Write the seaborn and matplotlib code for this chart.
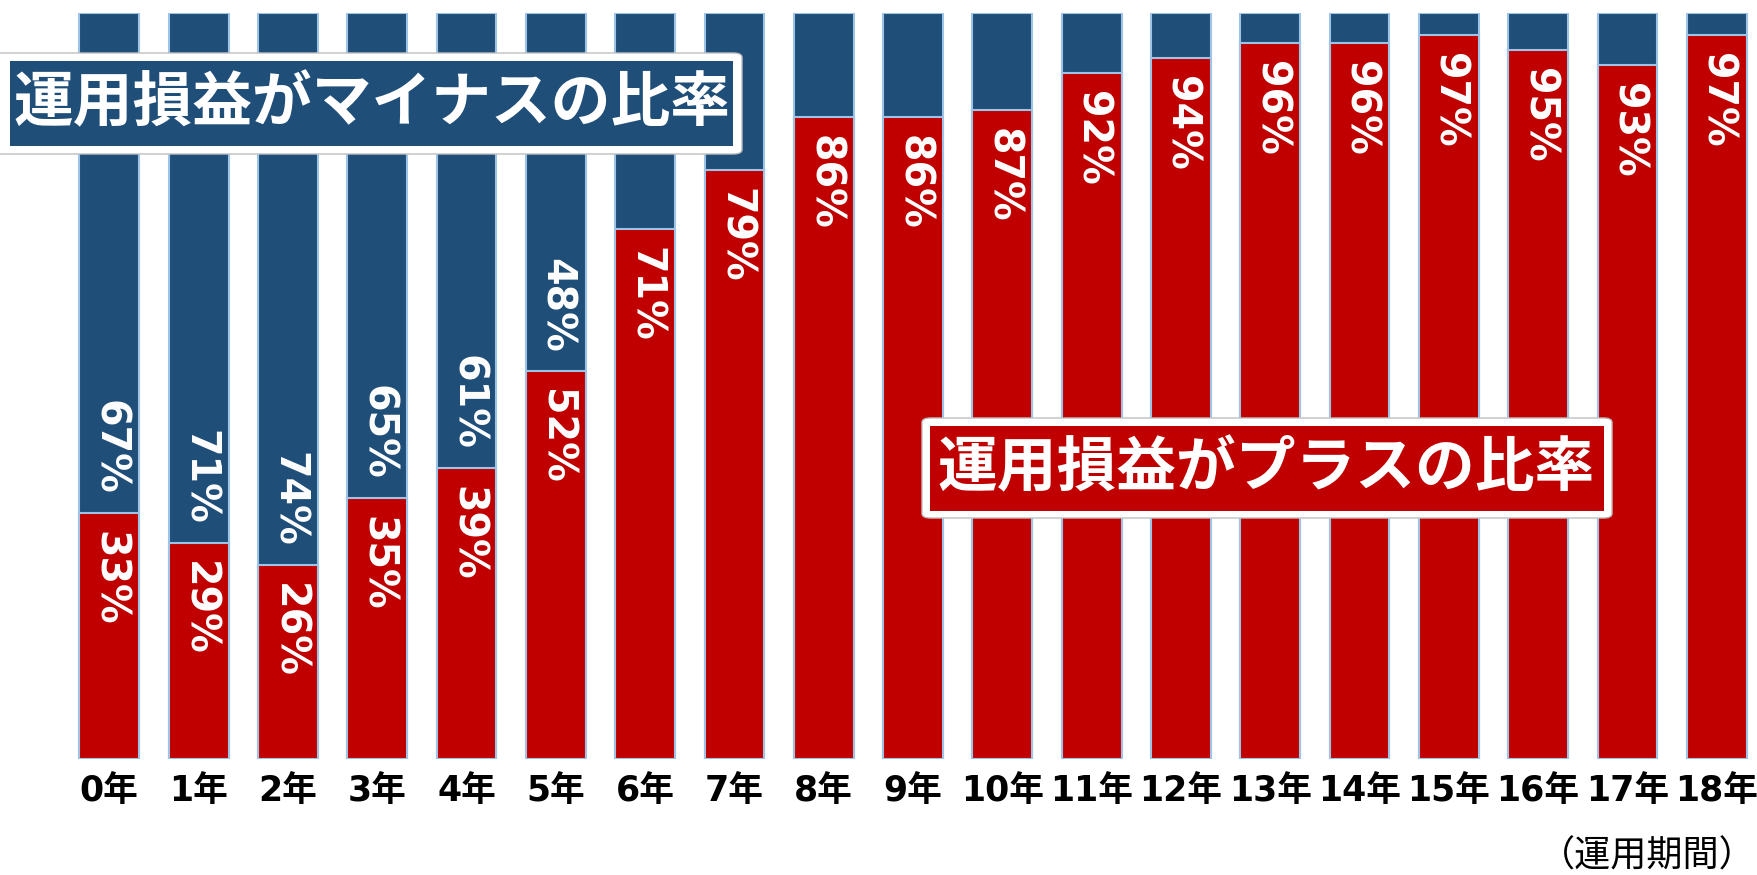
import pandas as pd
import seaborn as sns
import matplotlib.pyplot as plt
from matplotlib.patches import FancyBboxPatch

# data
years = ["0年", "1年", "2年", "3年", "4年", "5年", "6年", "7年", "8年", "9年",
         "10年", "11年", "12年", "13年", "14年", "15年", "16年", "17年", "18年"]
plus = [33, 29, 26, 35, 39, 52, 71, 79, 86, 86, 87, 92, 94, 96, 96, 97, 95, 93, 97]
minus = [67, 71, 74, 65, 61, 48, 29, 21, 14, 14, 13, 8, 6, 4, 4, 3, 5, 7, 3]
minus_shown = 6  # only the first bars carry a label on the blue part

blue = "#1F4E79"
red = "#C00000"
edge = "#9DC3E6"

sns.set_theme(style="white")
plt.rcParams['font.family'] = ['DejaVu Sans', 'Noto Sans CJK JP']

df = pd.DataFrame({"year": years, "plus": plus, "minus": minus})
df["total"] = df["plus"] + df["minus"]

W, H = 1758, 875
fig = plt.figure(figsize=(W / 100, H / 100), dpi=100)
ax = fig.add_axes([0, (H - 759) / H, 1, (759 - 13) / H])

# blue = whole bar, red drawn over the bottom part
sns.barplot(data=df, x="year", y="total", color=blue, saturation=1, width=0.67,
            edgecolor=edge, linewidth=1.5, errorbar=None, ax=ax)
sns.barplot(data=df, x="year", y="plus", color=red, saturation=1, width=0.67,
            edgecolor=edge, linewidth=1.5, errorbar=None, ax=ax)

ax.set_xlim(-1.224, 18.462)
ax.set_ylim(0, 100)
ax.set_yticks([])
ax.set_xlabel("")
ax.set_ylabel("")
for s in ax.spines.values():
    s.set_visible(False)
ax.tick_params(axis="x", length=0, pad=11)
for lab in ax.get_xticklabels():
    lab.set_fontsize(25)
    lab.set_fontweight("bold")
    lab.set_color("black")

gap = 2.4
for i, (p, m) in enumerate(zip(plus, minus)):
    ax.text(i, p - gap, f"{p}%", rotation=-90, ha="center", va="top",
            color="white", fontsize=28.5, fontweight="bold", family="DejaVu Sans")
    if i < minus_shown:
        ax.text(i, p + gap, f"{m}%", rotation=-90, ha="center", va="bottom",
                color="white", fontsize=28.5, fontweight="bold", family="DejaVu Sans")


def label_box(outer_px, inner_px, color, text, cx, cy):
    # white frame with thin grey outline, coloured inside (pixel coords from top)
    x0, y0, x1, y1 = outer_px
    outer = FancyBboxPatch((x0 / W, 1 - y1 / H), (x1 - x0) / W, (y1 - y0) / H,
                           boxstyle="round,pad=0,rounding_size=0.005",
                           transform=fig.transFigure, fc="white", ec="#BFBFBF",
                           lw=1, zorder=5)
    x0, y0, x1, y1 = inner_px
    inner = FancyBboxPatch((x0 / W, 1 - y1 / H), (x1 - x0) / W, (y1 - y0) / H,
                           boxstyle="square,pad=0",
                           transform=fig.transFigure, fc=color, ec="none", zorder=6)
    fig.patches.extend([outer, inner])
    fig.text(cx / W, 1 - cy / H, text, ha="center", va="center", color="white",
             fontsize=43, fontweight="bold", family="Noto Sans CJK JP", zorder=7)


label_box((-12, 53, 742, 154), (10, 61, 733, 146), blue,
          "運用損益がマイナスの比率", 372, 104)
label_box((922, 418, 1612, 518), (930, 426, 1604, 511), red,
          "運用損益がプラスの比率", 1266, 469)

fig.text(1756 / W, 1 - 857 / H, "（運用期間）", ha="right", va="center",
         fontsize=26, color="black", family="Noto Sans CJK JP")

plt.savefig("out.png", dpi=100)
